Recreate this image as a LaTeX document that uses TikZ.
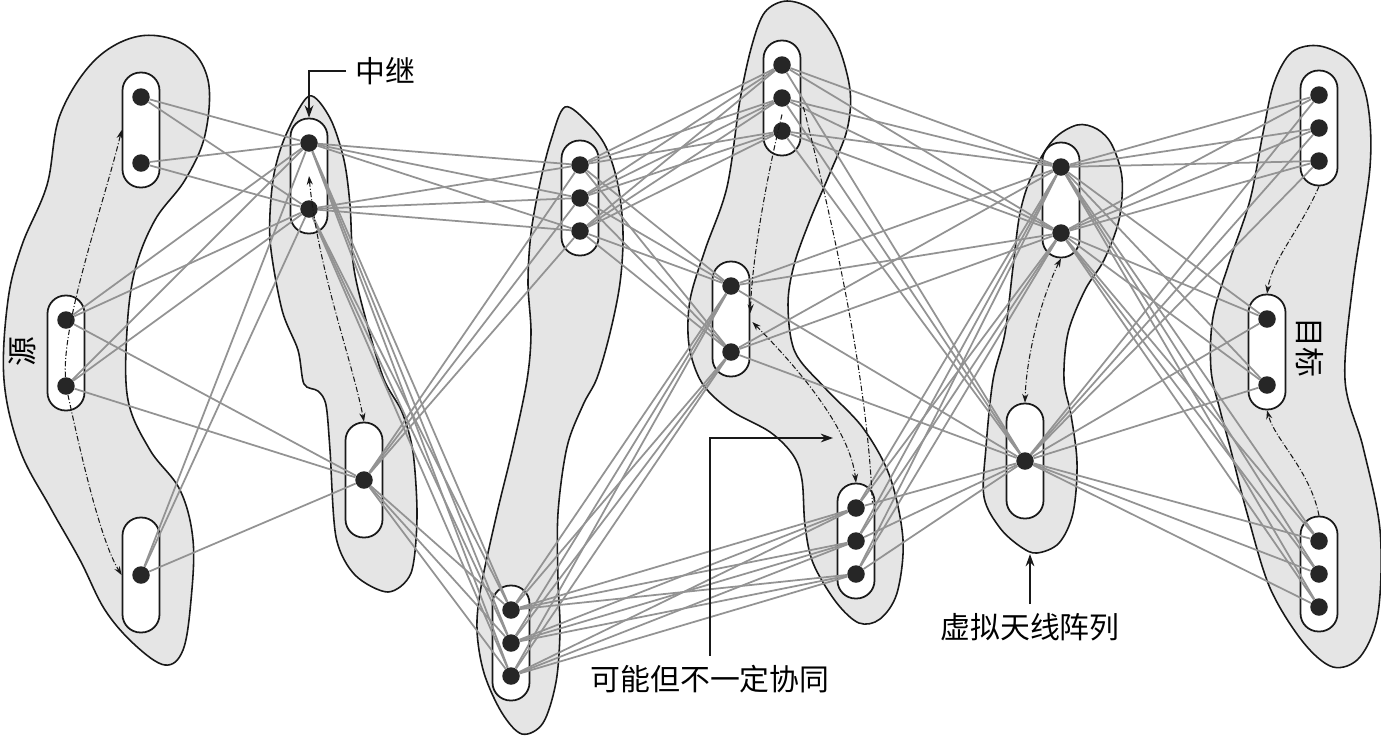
\documentclass[tikz,border=0pt]{standalone}
\usepackage{fontspec}
\newfontfamily\cjk{Noto Sans CJK SC}
\usetikzlibrary{calc, arrows.meta}

\tikzset{
    blob/.style={draw=black!90, line width=0.9pt, fill=gray!20},
    capsule/.style={draw=black!90, line width=1pt, fill=white, rounded corners=0.36cm,
        minimum width=0.74cm, minimum height=2.3cm, inner sep=0pt},
    dot/.style={circle, fill=black!85, inner sep=0pt, minimum size=0.35cm},
    link/.style={draw=gray!85, line width=1pt},
    hop/.style={black!90, line width=0.6pt, dash pattern=on 3pt off 1.2pt on 0.6pt off 1.2pt},
    oneway/.style={-{Stealth[length=5pt, width=3.5pt]}},
    twoway/.style={{Stealth[length=5pt, width=3.5pt]}-{Stealth[length=5pt, width=3.5pt]}},
    pointer/.style={black!90, line width=0.8pt, -{Stealth[length=7pt, width=5pt]}},
    lbl/.style={font=\cjk\fontsize{17}{20}\selectfont, inner sep=5pt},
}

\begin{document}
\begin{tikzpicture}[x=0.02cm, y=-0.02cm]
    \useasboundingbox (0,0) rectangle (1381,735);

    % Vẽ các vùng mảng ăng-ten
    \draw[blob] plot[smooth cycle, tension=0.6] coordinates {(140,36) (185,45) (208,80) (205,135)
        (185,180) (155,220) (135,270) (127,330) (128,400) (150,450) (180,490) (193,540)
        (191,600) (183,650) (165,665) (135,645) (105,610) (80,560) (50,507) (20,450)
        (4,380) (8,300) (22,245) (47,185) (60,115) (95,60)};
    \draw[blob] plot[smooth cycle, tension=0.5] coordinates {(309,96) (330,118) (344,160)
        (350,205) (353,262) (362,305) (383,377) (402,412) (413,452) (417,517) (411,573)
        (388,592) (355,575) (336,537) (330,450) (326,405) (318,391) (304,384) (298,350)
        (282,310) (270,240) (273,180) (285,137)};
    \draw[blob] plot[smooth cycle, tension=0.55] coordinates {(565,107) (588,123) (606,147)
        (618,185) (623,233) (620,283) (610,333) (597,378) (583,405) (567,447) (558,513)
        (558,580) (560,630) (556,682) (543,723) (522,734) (502,713) (484,673) (477,630)
        (481,587) (497,513) (513,447) (527,380) (531,333) (528,283) (531,233) (540,183)
        (551,140)};
    \draw[blob] plot[smooth cycle, tension=0.55] coordinates {(787,1) (814,11) (837,43)
        (850,90) (847,130) (830,173) (810,220) (794,265) (788,305) (795,352) (825,388)
        (863,428) (890,477) (903,540) (897,593) (880,619) (859,623) (836,602) (813,563)
        (805,525) (802,480) (793,455) (770,432) (730,410) (702,383) (689,345) (690,300)
        (705,250) (727,187) (740,100) (752,45) (765,12)};
    \draw[blob] plot[smooth cycle, tension=0.55] coordinates {(1077,125) (1097,129)
        (1112,145) (1122,178) (1119,220) (1104,260) (1085,290) (1068,333) (1064,380)
        (1071,415) (1077,463) (1073,513) (1059,543) (1037,553) (1021,547) (1000,528)
        (984,497) (986,447) (993,380) (1005,333) (1013,267) (1020,213) (1032,175)
        (1053,140)};
    \draw[blob] plot[smooth cycle, tension=0.55] coordinates {(1320,46) (1350,62)
        (1367,100) (1370,167) (1353,283) (1345,380) (1363,447) (1380,530) (1378,613)
        (1360,657) (1333,667) (1303,642) (1270,588) (1247,513) (1230,447) (1220,410)
        (1211,370) (1213,317) (1230,260) (1250,200) (1263,133) (1274,83) (1292,52)};

    % Các nhóm ăng-ten
    \foreach \name/\x/\y in {capA1/141/130, capA2/66/353, capA3/141/575,
        capB1/309/176, capB2/364/480, capC1/580/198, capC2/511/643,
        capD1/782/98, capD2/731/319, capD3/856/541, capE1/1061/200, capE2/1025/461,
        capF1/1319/128, capF2/1267/352, capF3/1319/574}
        \node[capsule] (\name) at (\x,\y) {};

    % Các nút
    \foreach \name/\x/\y in {a1/141/97, a2/141/163, a3/66/320, a4/66/386, a5/141/575,
        b1/309/143, b2/309/209, b3/364/480,
        c1/580/165, c2/580/198, c3/580/231, c4/511/610, c5/511/643, c6/511/676,
        d1/782/65, d2/782/98, d3/782/131, d4/731/286, d5/731/352,
        d6/856/508, d7/856/541, d8/856/574,
        e1/1061/167, e2/1061/233, e3/1025/461,
        f1/1319/95, f2/1319/128, f3/1319/161, f4/1267/319, f5/1267/385,
        f6/1319/541, f7/1319/574, f8/1319/607}
        \node[dot] (\name) at (\x,\y) {};

    % Các liên kết
    \foreach \u in {a1,a2} {\foreach \v in {b1,b2} {\draw[link] (\u) -- (\v);}}
    \foreach \u in {a3,a4,a5} {\foreach \v in {b1,b2,b3} {\draw[link] (\u) -- (\v);}}
    \foreach \u in {b1,b2,b3} {\foreach \v in {c1,c2,c3,c4,c5,c6} {\draw[link] (\u) -- (\v);}}
    \foreach \u in {c1,c2,c3} {\foreach \v in {d1,d2,d3,d4,d5} {\draw[link] (\u) -- (\v);}}
    \foreach \u in {c4,c5,c6} {\foreach \v in {d4,d5,d6,d7,d8} {\draw[link] (\u) -- (\v);}}
    \foreach \u in {d1,d2,d3,d4,d5,d6,d7,d8} {\foreach \v in {e1,e2,e3} {\draw[link] (\u) -- (\v);}}
    \foreach \u in {e1,e2,e3} {\foreach \v in {f1,f2,f3,f4,f5,f6,f7,f8} {\draw[link] (\u) -- (\v);}}

    % Chuyển tiếp trong mảng
    \draw[hop, oneway] (a4) .. controls (62,320) and (105,200) .. (capA1.west);
    \draw[hop, oneway] (a4) .. controls (80,450) and (100,540) .. (capA3.west);
    \draw[hop, twoway] ($(b1)!0.5!(b2)$) .. controls (318,270) and (352,360) .. (capB2.north);
    \draw[hop, oneway] ($(d2)!0.5!(d3)$) .. controls (766,180) and (752,260) .. ($(capD2.east)+(0,-6)$);
    \draw[hop, twoway] ($(capD2.east)+(2,3)$) .. controls (800,370) and (850,430) .. (capD3.north);
    \draw[hop] ($(capD1.east)+(2,9)$) .. controls (845,270) and (868,400) .. ($(capD3.north east)+(-3,20)$);
    \draw[hop, twoway] (capE1.south) .. controls (1040,300) and (1026,360) .. (capE2.north);
    \draw[hop, oneway] (capF1.south) .. controls (1300,230) and (1272,260) .. (capF2.north);
    \draw[hop, oneway] (capF3.north) .. controls (1310,470) and (1275,440) .. (capF2.south);

    % Nhãn
    \node[lbl, rotate=90] (srcTxt) at (22,352) {源};
    \node[lbl, rotate=-90] (dstTxt) at (1310,347) {目标};
    \node[lbl] (relayTxt) at (385,71) {中继};
    \draw[pointer] (relayTxt.west) -| (capB1.north);
    \node[lbl] (coopTxt) at (710,679) {可能但不一定协同};
    \coordinate (coopTip) at (833,438);
    \draw[pointer] (coopTxt.north) |- (coopTip);
    \node[lbl] (arrayTxt) at (1030,627) {虚拟天线阵列};
    \coordinate (arrayTip) at (1030,554);
    \draw[pointer] (arrayTxt.north) -- (arrayTip);
\end{tikzpicture}
\end{document}
